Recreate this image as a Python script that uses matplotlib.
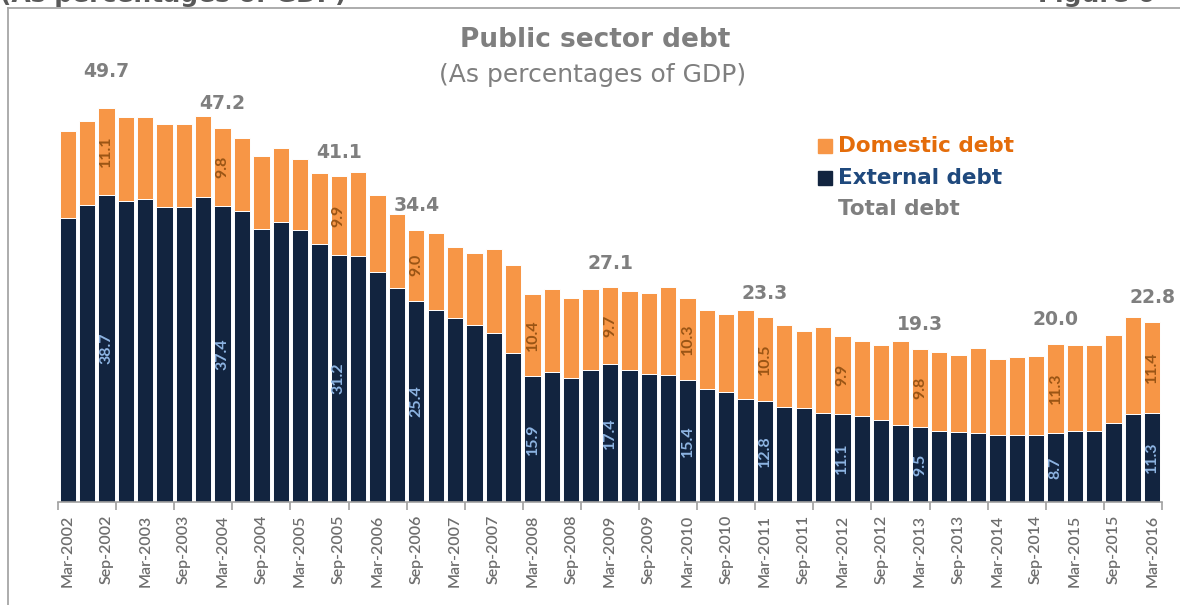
import matplotlib
matplotlib.use("Agg")
import matplotlib.pyplot as plt
from matplotlib.patches import Rectangle
from matplotlib.lines import Line2D
import numpy as np

plt.rcParams['font.family'] = ['DejaVu Sans']
NARROW = ['Lato', 'DejaVu Sans']

# ---------------- data ----------------
years = list(range(2002, 2017))
months = ['Mar', 'Jun', 'Sep', 'Dec']
periods = [f"{m}-{y}" for y in years for m in months][:57]

external = [35.9, 37.5, 38.7, 38.0, 38.2, 37.3, 37.3, 38.5, 37.4, 36.7,
            34.5, 35.3, 34.3, 32.6, 31.2, 31.0, 29.0, 27.0, 25.4, 24.3,
            23.2, 22.4, 21.4, 18.8, 15.9, 16.4, 15.7, 16.7, 17.4, 16.7,
            16.2, 16.0, 15.4, 14.3, 13.9, 13.0, 12.8, 12.0, 11.9, 11.3,
            11.1, 10.8, 10.3, 9.7, 9.5, 9.0, 8.9, 8.7, 8.5, 8.5,
            8.5, 8.7, 9.0, 9.0, 10.0, 11.1, 11.3]
domestic = [11.0, 10.6, 11.1, 10.6, 10.4, 10.4, 10.4, 10.3, 9.8, 9.2,
            9.2, 9.4, 9.0, 8.9, 9.9, 10.7, 9.8, 9.4, 9.0, 9.7,
            9.0, 9.1, 10.5, 11.1, 10.4, 10.5, 10.1, 10.2, 9.7, 9.9,
            10.2, 11.2, 10.3, 10.0, 9.9, 11.3, 10.5, 10.3, 9.7, 10.8,
            9.9, 9.5, 9.5, 10.6, 9.8, 9.9, 9.7, 10.8, 9.6, 9.8,
            9.9, 11.3, 10.8, 10.8, 11.1, 12.2, 11.4]

# bars carrying component labels
part_label_idx = [2, 8, 14, 18, 24, 28, 32, 36, 40, 44, 51, 56]
# bars carrying total labels and the total values shown
total_label_idx = [2, 8, 14, 18, 28, 36, 44, 51, 56]
total_label_val = [49.7, 47.2, 41.1, 34.4, 27.1, 23.3, 19.3, 20.0, 22.8]

# ---------------- style ----------------
ORANGE = '#F79646'
NAVY = '#12243F'
DOM_TXT = '#9A5515'
EXT_TXT = '#8DB4E2'
GRAY = '#7F7F7F'
TICK_GRAY = '#6E6E6E'

W, H = 1180, 605
fig = plt.figure(figsize=(W / 100, H / 100), dpi=100)

ax_left, ax_right = 58, 1162
ax_bottom, ax_top = 502, 30
ax = fig.add_axes([ax_left / W, 1 - ax_bottom / H,
                   (ax_right - ax_left) / W, (ax_bottom - ax_top) / H])

n = len(external)
x = np.arange(n)
ext = np.array(external)
dom = np.array(domestic)

ax.bar(x, ext, width=0.84, color=NAVY, edgecolor='white', linewidth=0.7)
ax.bar(x, dom, bottom=ext, width=0.84, color=ORANGE, edgecolor='white', linewidth=0.7)

ax.set_xlim(-0.5, n - 0.5)
ax.set_ylim(0, (ax_bottom - ax_top) / 7.92)

for s in ['top', 'right', 'left']:
    ax.spines[s].set_visible(False)
ax.spines['bottom'].set_color('#A0A0A0')
ax.spines['bottom'].set_linewidth(1.2)
ax.set_yticks([])

# major ticks (marks only) every 3 bars at bar boundaries
ax.set_xticks(np.arange(-0.5, n, 3))
ax.set_xticklabels([])
ax.tick_params(axis='x', which='major', length=6, width=1.2, color='#A0A0A0')
# minor ticks carry labels every 2 bars
ax.tick_params(axis='x', which='minor', length=0, pad=9)
ax.set_xticks(x[::2], minor=True)
ax.set_xticklabels(periods[::2], minor=True, rotation=90, fontsize=11.5,
                   color=TICK_GRAY, family=NARROW, fontweight='semibold')

# component labels
for i in part_label_idx:
    ax.text(i, ext[i] / 2, f"{external[i]:.1f}", rotation=90, ha='center',
            va='center', fontsize=11.5, color=EXT_TXT, family=NARROW,
            fontweight='bold')
    ax.text(i, ext[i] + dom[i] / 2, f"{domestic[i]:.1f}", rotation=90,
            ha='center', va='center', fontsize=11.5, color=DOM_TXT,
            fontweight='bold', family=NARROW)

# total labels
for i, v in zip(total_label_idx, total_label_val):
    off = 26 if i == 2 else 17.5
    ax.annotate(f"{v:.1f}", xy=(i, ext[i] + dom[i]), xytext=(0, off),
                textcoords='offset points', ha='center', va='center',
                fontsize=13.5, fontweight='bold', color=GRAY)

# title
fig.text(595 / W, 1 - 40 / H, "Public sector debt", ha='center', va='center',
         fontsize=19, fontweight='bold', color=GRAY)
fig.text(593 / W, 1 - 75 / H, "(As percentages of GDP)", ha='center',
         va='center', fontsize=18, color=GRAY)

# legend
legend_items = [("Domestic debt", ORANGE, '#E46C0A'),
                ("External debt", NAVY, '#1F497D'),
                ("Total debt", None, GRAY)]
for k, (lab, fc, tc) in enumerate(legend_items):
    yc = 146 + k * 31.5
    if fc is not None:
        fig.patches.append(Rectangle((818 / W, 1 - (yc + 7) / H), 14 / W, 14 / H,
                                     transform=fig.transFigure, color=fc))
    fig.text(838 / W, 1 - yc / H, lab, ha='left', va='center', fontsize=15.5,
             fontweight='bold', color=tc)

# outer frame
fig.add_artist(Line2D([7.5 / W, 7.5 / W], [0, 1 - 8 / H], transform=fig.transFigure,
                      color='#A6A6A6', lw=1.3))
fig.add_artist(Line2D([7.5 / W, 1], [1 - 8 / H, 1 - 8 / H], transform=fig.transFigure,
                      color='#A6A6A6', lw=1.3))

# heading text of the page, cut by the top edge as in the source
fig.text(0, 1 - 2 / H, "(As percentages of GDP)", ha='left', va='baseline',
         fontsize=18, fontweight='bold', color='#595959')
fig.text(1038 / W, 1 - 2 / H, "Figure 6", ha='left', va='baseline',
         fontsize=18, fontweight='bold', color='#595959')

fig.savefig('out.png', dpi=100)
